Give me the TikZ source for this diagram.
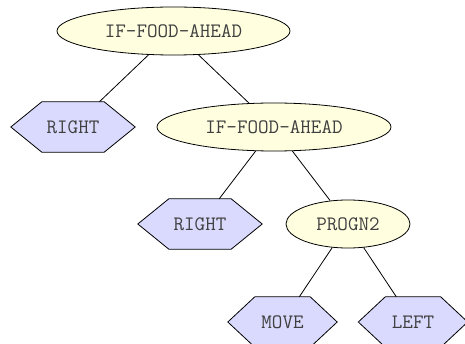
\documentclass[tikz,border=0pt]{standalone}
\usepackage{fontspec}
\usetikzlibrary{shapes.geometric,backgrounds}
\definecolor{ellfill}{HTML}{FFFFE0}
\definecolor{hexfill}{HTML}{DADAFF}
\definecolor{txt}{HTML}{404040}
\begin{document}
\begin{tikzpicture}[x=1pt,y=-1pt,
  lbl/.style={font=\ttfamily\fontsize{20.5}{22}\selectfont, text=txt, inner sep=0pt},
  ellnode/.style={lbl, shape=ellipse, draw=black, line width=0.8pt, fill=ellfill, minimum height=48pt},
  hexnode/.style={lbl, shape=rectangle, minimum height=50pt},
  hexline/.style={draw=black, line width=0.8pt, fill=hexfill, line join=miter},
  conn/.style={draw=black, line width=0.8pt}]
\useasboundingbox (0,0) rectangle (465,344);
\node[ellnode, minimum width=233pt] (root) at (173.5,31) {IF-FOOD-AHEAD};
\node[hexnode, minimum width=124pt] (r1) at (73,127) {RIGHT};
\node[ellnode, minimum width=234pt] (if2) at (274,127) {IF-FOOD-AHEAD};
\node[hexnode, minimum width=124pt] (r2) at (200,224) {RIGHT};
\node[ellnode, minimum width=124pt] (prog) at (348,224) {PROGN2};
\node[hexnode, minimum width=109pt] (mv) at (282.5,322) {MOVE};
\node[hexnode, minimum width=109pt] (lf) at (413,322) {LEFT};
\begin{scope}[on background layer]
\foreach \n/\i in {r1/31pt,r2/31pt,mv/27pt,lf/27pt}
  \draw[hexline] (\n.west) -- ([xshift=\i]\n.north west) -- ([xshift=-\i]\n.north east) -- (\n.east) -- ([xshift=-\i]\n.south east) -- ([xshift=\i]\n.south west) -- cycle;
\end{scope}
\draw[conn] (root) -- (r1);
\draw[conn] (root) -- (if2);
\draw[conn] (if2) -- (r2);
\draw[conn] (if2) -- (prog);
\draw[conn] (prog) -- (mv);
\draw[conn] (prog) -- (lf);
\end{tikzpicture}
\end{document}
